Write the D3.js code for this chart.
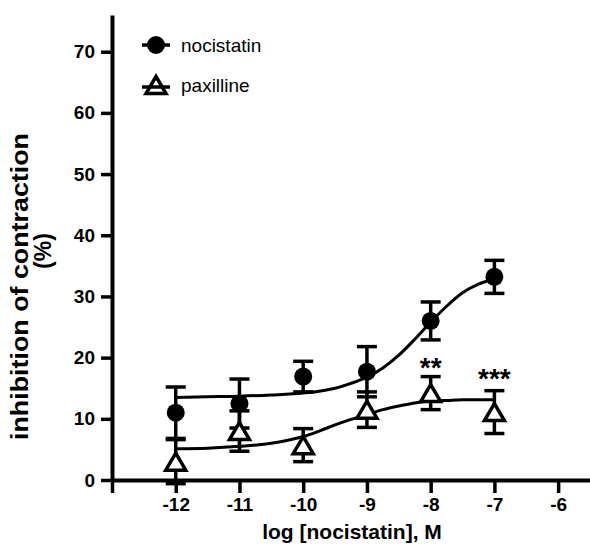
<!DOCTYPE html>
<html>
<head>
<meta charset="utf-8">
<script src="https://cdn.jsdelivr.net/npm/d3@7"></script>
<style>
  body { margin: 0; background: #fff; }
  svg { display: block; font-family: Arial, "Liberation Sans", sans-serif; }
</style>
</head>
<body>
<script>
// measured points: log concentration, mean and SEM
var logConc = [-12, -11, -10, -9, -8, -7];
var nocMean = [11.0, 12.5, 16.9, 17.7, 26.0, 33.2];
var nocSem  = [4.2, 4.0, 2.5, 4.1, 3.1, 2.7];
var paxMean = [3.0, 8.0, 5.7, 11.5, 14.2, 11.1];
var paxSem  = [3.6, 3.3, 2.7, 2.9, 2.7, 3.5];

// fitted curves
var fitX   = [-12, -11.5, -11, -10.5, -10, -9.75, -9.5, -9.25, -9, -8.75, -8.5, -8.25, -8, -7.75, -7.5, -7.25, -7];
var nocFit = [13.5, 13.6, 13.7, 13.9, 14.2, 14.5, 15.0, 15.8, 16.8, 18.3, 20.4, 23.0, 25.8, 28.4, 30.6, 32.0, 32.9];
var paxFit = [5.1, 5.2, 5.5, 6.0, 7.1, 8.0, 9.0, 9.9, 10.7, 11.5, 12.1, 12.6, 12.9, 13.0, 13.1, 13.1, 13.1];

var xTicks = [-13, -12, -11, -10, -9, -8, -7, -6];
var yTicks = [0, 10, 20, 30, 40, 50, 60, 70];
var seriesNames = ["nocistatin", "paxilline"];
var stars = [{x: -8, label: "**"}, {x: -7, label: "***"}];

var width = 590, height = 546;

var svg = d3.select("body").append("svg")
    .attr("width", width)
    .attr("height", height);

var x = d3.scaleLinear()
    .domain([-13, -5.5])
    .range([112, 590]);

var y = d3.scaleLinear()
    .domain([0, 76])
    .range([480, 15]);

// axes
var yAxis = svg.append("g")
    .attr("transform", "translate(" + x(-13) + ",0)")
    .call(d3.axisLeft(y).tickValues(yTicks).tickSize(11).tickSizeOuter(0).tickPadding(6));

var xAxis = svg.append("g")
    .attr("transform", "translate(0," + y(0) + ")")
    .call(d3.axisBottom(x).tickValues(xTicks).tickSize(13).tickSizeOuter(0).tickPadding(5)
      .tickFormat(function(d) { return d === -13 ? "" : String(d); }));

[yAxis, xAxis].forEach(function(g) {
  g.select(".domain").attr("stroke", "#000").attr("stroke-width", 4);
  g.selectAll(".tick line").attr("stroke", "#000").attr("stroke-width", 3.5);
  g.selectAll(".tick text")
    .attr("fill", "#000")
    .style("font-size", "19px")
    .style("font-weight", "bold");
});

// fitted curves
var line = d3.line()
    .x(function(d) { return x(d[0]); })
    .y(function(d) { return y(d[1]); })
    .curve(d3.curveMonotoneX);

[nocFit, paxFit].forEach(function(fit) {
  svg.append("path")
    .datum(fitX.map(function(v, i) { return [v, fit[i]]; }))
    .attr("fill", "none")
    .attr("stroke", "#000")
    .attr("stroke-width", 3)
    .attr("d", line);
});

// error bars
function errorBars(means, sems) {
  var g = svg.append("g").attr("stroke", "#000").attr("stroke-width", 3.5);
  logConc.forEach(function(c, i) {
    var hi = y(means[i] + sems[i]), lo = y(means[i] - sems[i]), cx = x(c);
    g.append("line").attr("x1", cx).attr("x2", cx).attr("y1", hi).attr("y2", lo);
    g.append("line").attr("x1", cx - 10).attr("x2", cx + 10).attr("y1", hi).attr("y2", hi);
    g.append("line").attr("x1", cx - 10).attr("x2", cx + 10).attr("y1", lo).attr("y2", lo);
  });
}
errorBars(paxMean, paxSem);
errorBars(nocMean, nocSem);

var triPath = "M0,-8.5L10,8.5L-10,8.5Z";

// markers
svg.append("g").selectAll("path")
  .data(logConc)
  .join("path")
    .attr("transform", function(d, i) { return "translate(" + x(d) + "," + y(paxMean[i]) + ")"; })
    .attr("d", triPath)
    .attr("fill", "#fff")
    .attr("stroke", "#000")
    .attr("stroke-width", 3.5)
    .attr("stroke-linejoin", "miter");

svg.append("g").selectAll("circle")
  .data(logConc)
  .join("circle")
    .attr("cx", function(d) { return x(d); })
    .attr("cy", function(d, i) { return y(nocMean[i]); })
    .attr("r", 9)
    .attr("fill", "#000");

// significance stars
svg.append("g").selectAll("text")
  .data(stars)
  .join("text")
    .attr("x", function(d) { return x(d.x); })
    .attr("y", function(d) {
      var i = logConc.indexOf(d.x);
      return y(paxMean[i] + paxSem[i]) + (d.label === "**" ? 0 : -3);
    })
    .attr("text-anchor", "middle")
    .style("font-size", "28px")
    .style("font-weight", "bold")
    .text(function(d) { return d.label; });

// legend
var legend = svg.append("g");
seriesNames.forEach(function(name, i) {
  var ly = 45 + i * 40;
  legend.append("line")
    .attr("x1", 142).attr("x2", 170)
    .attr("y1", i === 0 ? ly : ly + 2).attr("y2", i === 0 ? ly : ly + 2)
    .attr("stroke", "#000").attr("stroke-width", 3.5);
  if (i === 0) {
    legend.append("circle").attr("cx", 156).attr("cy", ly).attr("r", 9).attr("fill", "#000");
  } else {
    legend.append("path")
      .attr("transform", "translate(156," + ly + ")")
      .attr("d", triPath)
      .attr("fill", "none")
      .attr("stroke", "#000")
      .attr("stroke-width", 3.5);
  }
  legend.append("text")
    .attr("x", 181)
    .attr("y", ly + 7)
    .style("font-size", "19px")
    .text(name);
});

// axis titles
svg.append("text")
    .attr("x", 352)
    .attr("y", 539)
    .attr("text-anchor", "middle")
    .style("font-size", "21px")
    .style("font-weight", "bold")
    .text("log [nocistatin], M");

svg.append("text")
    .attr("transform", "translate(28,286.5) rotate(-90)")
    .attr("text-anchor", "middle")
    .style("font-size", "24px")
    .style("font-weight", "bold")
    .attr("textLength", 307)
    .attr("lengthAdjust", "spacingAndGlyphs")
    .text("inhibition of contraction");

svg.append("text")
    .attr("transform", "translate(51,251) rotate(-90)")
    .attr("text-anchor", "middle")
    .style("font-size", "23px")
    .style("font-weight", "bold")
    .text("(%)");
</script>
</body>
</html>
